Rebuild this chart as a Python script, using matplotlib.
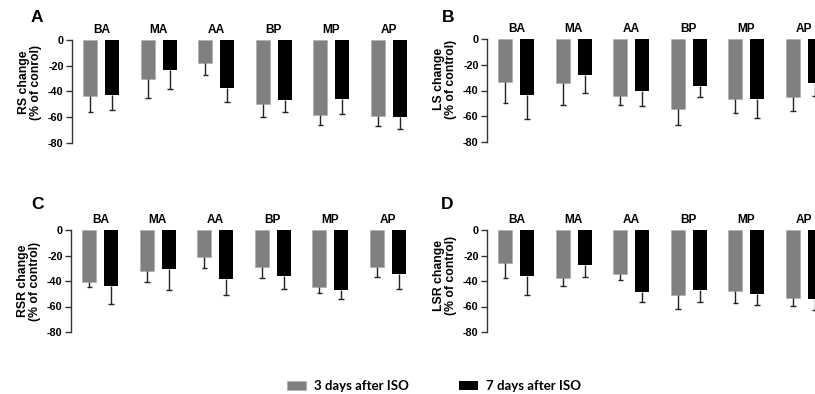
import matplotlib
matplotlib.use("Agg")
import matplotlib.pyplot as plt
import matplotlib.transforms as mtransforms
import numpy as np

plt.rcParams["font.family"] = ["Liberation Sans", "DejaVu Sans"]
plt.rcParams["font.weight"] = "bold"
plt.rcParams["axes.unicode_minus"] = False

# data (mean change in % of control, and the lower error length)
sites = ["BA", "MA", "AA", "BP", "MP", "AP"]
series_labels = ["3 days after ISO", "7 days after ISO"]

rs_3d = [-43.8, -30.0, -17.6, -49.4, -58.5, -59.3]
rs_3d_err = [12.1, 15.0, 9.8, 10.4, 7.3, 7.5]
rs_7d = [-43.0, -23.0, -37.3, -46.9, -45.8, -59.8]
rs_7d_err = [11.6, 14.8, 10.9, 9.0, 11.4, 9.6]

ls_3d = [-33.5, -34.3, -43.9, -54.5, -46.5, -45.2]
ls_3d_err = [16.1, 16.6, 7.5, 12.0, 10.6, 10.9]
ls_7d = [-43.4, -27.8, -40.5, -36.6, -46.5, -34.3]
ls_7d_err = [18.7, 14.0, 11.7, 8.3, 14.8, 9.9]

rsr_3d = [-40.8, -31.9, -21.4, -29.0, -44.7, -29.3]
rsr_3d_err = [4.2, 9.1, 8.4, 8.6, 4.7, 7.6]
rsr_7d = [-43.7, -30.6, -38.7, -35.8, -46.8, -34.5]
rsr_7d_err = [14.3, 16.7, 12.0, 10.5, 7.6, 11.8]

lsr_3d = [-25.5, -38.0, -34.9, -50.6, -48.2, -53.7]
lsr_3d_err = [12.5, 6.0, 4.7, 11.7, 9.4, 6.0]
lsr_7d = [-36.0, -27.1, -48.5, -47.2, -50.3, -54.2]
lsr_7d_err = [15.0, 9.6, 8.3, 9.6, 8.6, 8.8]

yticks = [0, -20, -40, -60, -80]

panels = [
    ("A", "RS change\n(% of conrol)", rs_3d, rs_3d_err, rs_7d, rs_7d_err),
    ("B", "LS change\n(% of control)", ls_3d, ls_3d_err, ls_7d, ls_7d_err),
    ("C", "RSR change\n(% of control)", rsr_3d, rsr_3d_err, rsr_7d, rsr_7d_err),
    ("D", "LSR change\n(% of control)", lsr_3d, lsr_3d_err, lsr_7d, lsr_7d_err),
]

W, H = 815, 394
fig = plt.figure(figsize=(W / 100, H / 100), dpi=100)

# axes boxes in pixels: left spine x, y of 0, y of -80
boxes = [(72, 40, 143), (487, 39, 142), (71, 230, 332), (487, 230, 332)]
letter_pos = [(37, 17), (448, 17), (38, 205), (447, 205)]
ylabel_y = [0.59, 0.61, 0.5, 0.55]
ax_w = 342

x = np.arange(len(sites))
off = 0.19
bw = 0.243
cap = 0.05
gray = "#808080"
bars = []

for i, (letter, ylab, m3, e3, m7, e7) in enumerate(panels):
    left, top, bot = boxes[i]
    ax = fig.add_axes([left / W, 1 - bot / H, ax_w / W, (bot - top) / H])
    b1 = ax.bar(x - off, m3, bw, color=gray, edgecolor="#a8a8a8", linewidth=0.4)
    b2 = ax.bar(x + off, m7, bw, color="black")
    bars = [b1, b2]
    for xs, m, e in [(x - off, m3, e3), (x + off, m7, e7)]:
        m = np.array(m)
        lo = m - np.array(e)
        ax.vlines(xs, m, lo, color="#222222", lw=1.0, clip_on=False)
        ax.hlines(lo, xs - cap, xs + cap, color="#222222", lw=1.0, clip_on=False)
    ax.set_ylim(-80, 0)
    ax.set_xlim(-0.51, -0.51 + ax_w / 57.5)
    ax.set_yticks(yticks)
    ax.set_yticklabels([str(t) for t in yticks], fontsize=7.8, fontweight="bold")
    ax.tick_params(axis="y", length=4, width=1, pad=2, color="#333333")
    ax.set_xticks([])
    for s in ["top", "right", "bottom"]:
        ax.spines[s].set_visible(False)
    ax.spines["left"].set_color("#333333")
    ax.spines["left"].set_linewidth(1)
    ax.set_ylabel(ylab, fontsize=8.8, fontweight="bold", linespacing=1.05)
    ax.yaxis.set_label_coords(-30 / ax_w, ylabel_y[i])
    trans = mtransforms.blended_transform_factory(ax.transData, ax.transAxes)
    for j, s in enumerate(sites):
        ax.text(x[j], 1.095, s, transform=trans, ha="center", va="center",
                fontsize=8.6, fontweight="bold")
    lx, ly = letter_pos[i]
    fig.text(lx / W, 1 - ly / H, letter, ha="center", va="center",
             fontsize=12.5, fontweight="bold")

fig.legend(bars, series_labels, ncol=2, loc="center",
           bbox_to_anchor=(434 / W, 1 - 386 / H), frameon=False,
           prop={"family": "Lato", "weight": "bold", "size": 9.5},
           handlelength=1.44, handleheight=0.68, handletextpad=0.6,
           columnspacing=3.8)

fig.savefig("out.png", dpi=100)
